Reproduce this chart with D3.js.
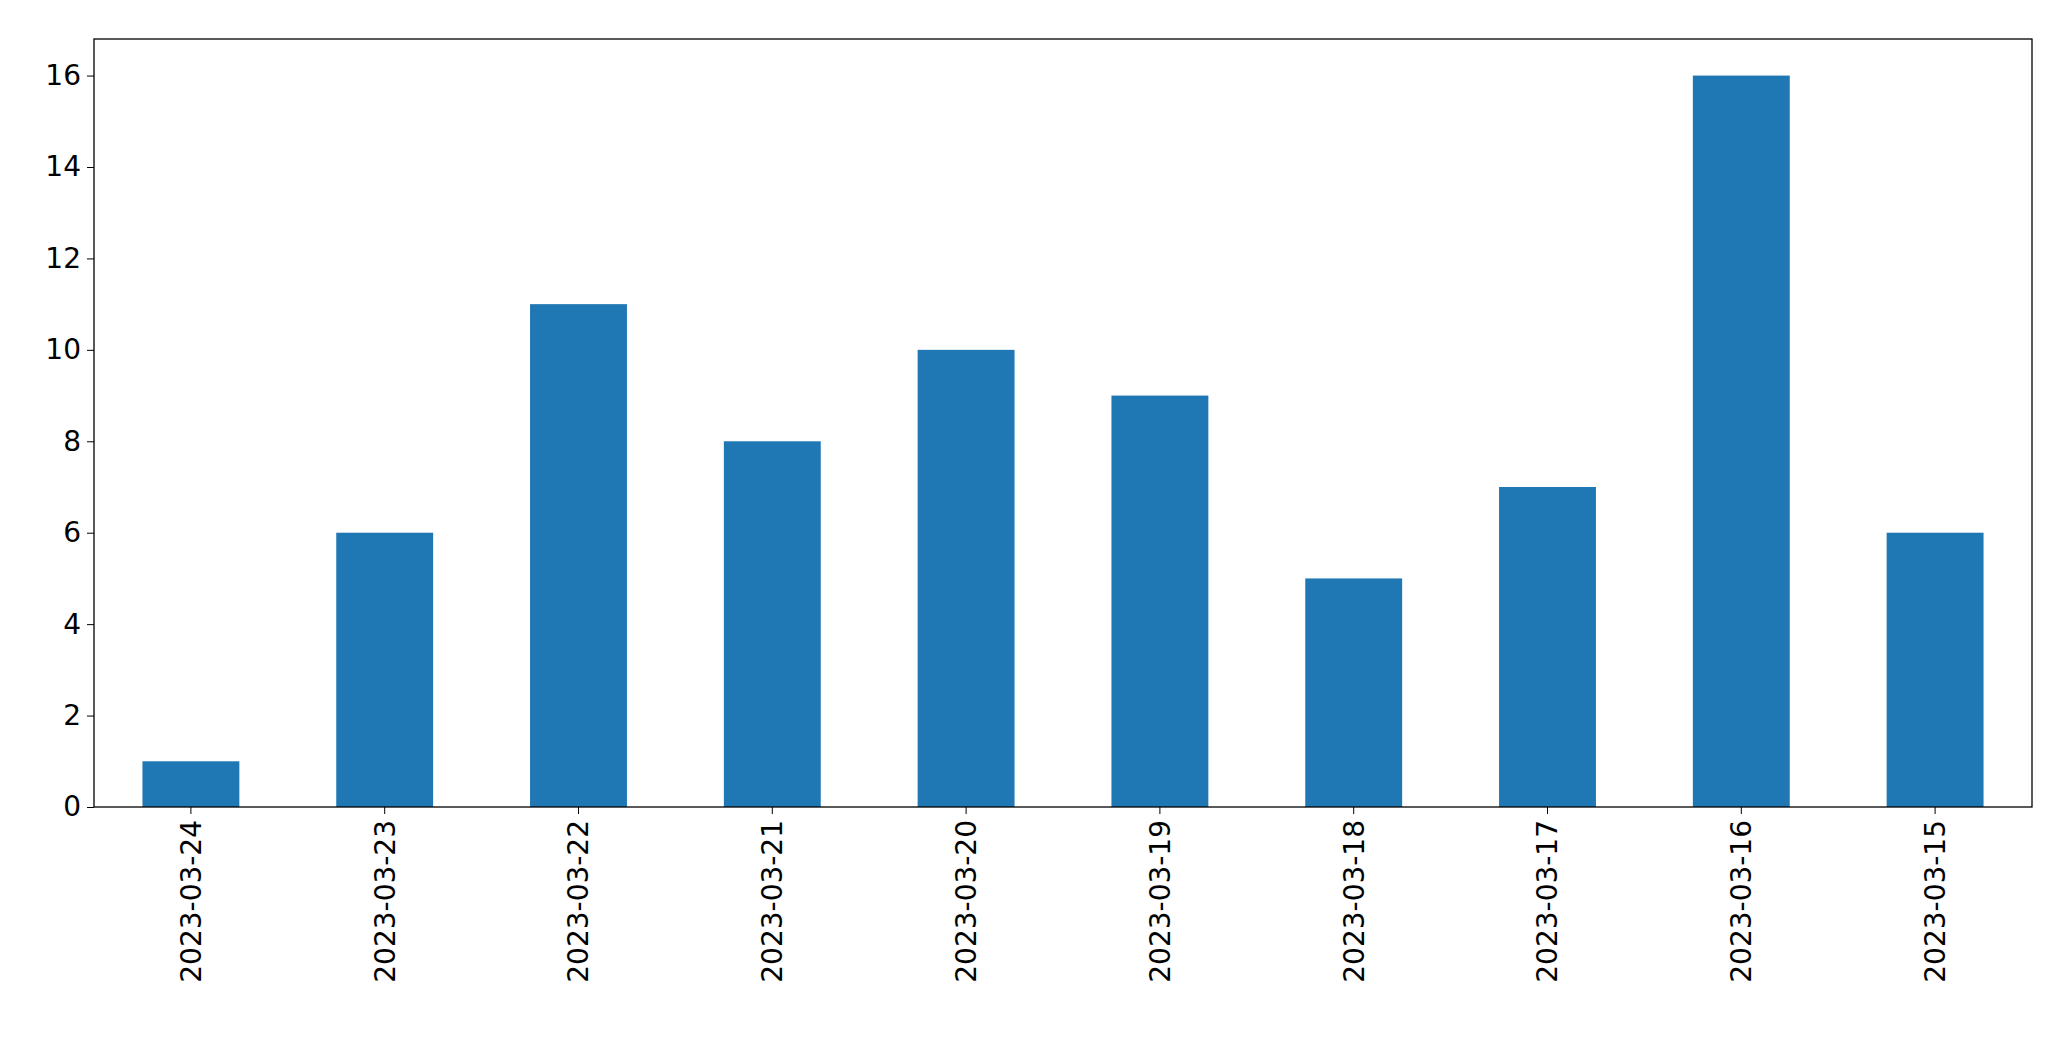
<!DOCTYPE html>
<html>
<head>
<meta charset="utf-8">
<script src="https://cdn.jsdelivr.net/npm/d3@7"></script>
<style>
  body { margin: 0; background: #fff; }
  text { font-family: "DejaVu Sans", sans-serif; }
</style>
</head>
<body>
<script>
const dates = ["2023-03-24", "2023-03-23", "2023-03-22", "2023-03-21", "2023-03-20",
               "2023-03-19", "2023-03-18", "2023-03-17", "2023-03-16", "2023-03-15"];
const counts = [1, 6, 11, 8, 10, 9, 5, 7, 16, 6];
const yTicks = [0, 2, 4, 6, 8, 10, 12, 14, 16];

const W = 2071, H = 1061;
const margin = {top: 39, right: 39, bottom: 254, left: 94};
const width = W - margin.left - margin.right,
      height = H - margin.top - margin.bottom;

const svg = d3.select("body").append("svg")
    .attr("width", W)
    .attr("height", H);

const g = svg.append("g")
    .attr("transform", "translate(" + margin.left + "," + margin.top + ")");

const x = d3.scaleBand()
    .domain(dates)
    .range([0, width])
    .paddingInner(0.5)
    .paddingOuter(0.25);

const y = d3.scaleLinear()
    .domain([0, d3.max(counts) * 1.05])
    .range([height, 0]);

g.selectAll("rect")
  .data(counts)
  .enter().append("rect")
    .attr("x", (d, i) => x(dates[i]))
    .attr("y", d => y(d))
    .attr("width", x.bandwidth())
    .attr("height", d => height - y(d))
    .attr("fill", "#1f77b4");

const yAxis = g.append("g")
    .call(d3.axisLeft(y).tickValues(yTicks).tickSize(7).tickPadding(6));
yAxis.select(".domain").remove();
yAxis.selectAll("text").style("font-size", "28px").attr("fill", "#000");

const xAxis = g.append("g")
    .attr("transform", "translate(0," + height + ")")
    .call(d3.axisBottom(x).tickSize(7).tickPadding(6));
xAxis.select(".domain").remove();
xAxis.selectAll("text")
    .style("font-size", "28px")
    .attr("fill", "#000")
    .attr("transform", "rotate(-90)")
    .attr("text-anchor", "end")
    .attr("x", -13)
    .attr("y", 0)
    .attr("dy", "0.35em");

g.append("rect")
    .attr("width", width)
    .attr("height", height)
    .attr("fill", "none")
    .attr("stroke", "#000")
    .attr("stroke-width", 1.3);
</script>
</body>
</html>
